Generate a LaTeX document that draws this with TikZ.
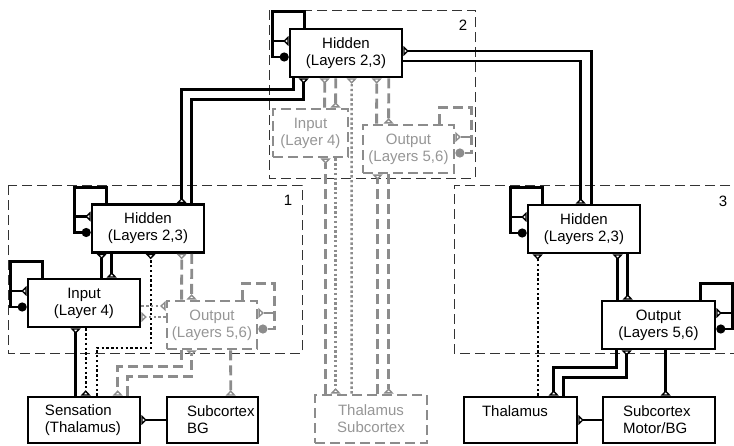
\documentclass[tikz,border=0pt]{standalone}
\usepackage{fontspec}
\setmainfont{Liberation Sans}
\usetikzlibrary{arrows.meta}
\definecolor{lgray}{RGB}{140,140,140}
\definecolor{tgray}{RGB}{150,150,150}
\hfuzz=100pt

\tikzset{
	layer/.style={draw, line width=2.6pt, fill=white, align=center, minimum height=48pt, inner sep=2pt},
	glayer/.style={layer, draw=lgray, text=tgray, dash pattern=on 10pt off 5pt, line width=2.8pt},
	endbox/.style={layer, minimum height=46pt, align=left, inner xsep=#1},
	region/.style={draw=black!80, line width=1pt, dash pattern=on 10pt off 5pt},
	conn/.style={line width=2.6pt},
	gconn/.style={draw=lgray, line width=2.8pt, dash pattern=on 10pt off 5pt},
	dotc/.style={line width=2.4pt, dash pattern=on 2.4pt off 2.4pt},
	gdot/.style={draw=lgray, line width=2.4pt, dash pattern=on 2.4pt off 2.4pt},
	exc/.style={-{Triangle[open,reversed,length=5.5pt,width=10pt,line width=1.4pt]}},
	inh/.style={-{Circle[length=9pt]}}
}

\begin{document}
\begin{tikzpicture}[x=1pt, y=-1pt, every node/.style={font=\fontsize{15}{17}\selectfont}]
		\useasboundingbox (0,0) rectangle (734,445);
		% areas
		\draw[region] (8,185) rectangle (302,353);
		\draw[region] (269,10) rectangle (475,178);
		\draw[region] (745,185) -- (454,185) -- (454,353) -- (745,353);
		\node (lab1) at (288,200) {1};
		\node (lab2) at (463,25) {2};
		\node (lab3) at (723,201) {3};
		% layers
		\node[layer, minimum width=112pt] (hid2) at (346,53) {Hidden\\(Layers 2,3)};
		\node[glayer, minimum width=75pt] (inp2) at (310.5,133) {Input\\(Layer 4)};
		\node[glayer, minimum width=91pt] (out2) at (408.5,149) {Output\\(Layers 5,6)};
		\node[layer, minimum width=112pt] (hid1) at (148,228.5) {Hidden\\(Layers 2,3)};
		\node[layer, minimum width=112pt] (inp1) at (84,303) {Input\\(Layer 4)};
		\node[glayer, minimum width=90pt] (out1) at (212,325) {Output\\(Layers 5,6)};
		\node[layer, minimum width=112pt] (hid3) at (584,229) {Hidden\\(Layers 2,3)};
		\node[layer, minimum width=113pt] (out3) at (658.5,325) {Output\\(Layers 5,6)};
		% subcortical boxes
		\node[endbox=17pt, text width=78pt] (sens) at (84,420) {Sensation\\(Thalamus)};
		\node[endbox=20pt, text width=51pt] (sbg) at (212.5,420) {Subcortex\\BG};
		\node[glayer, minimum width=112pt] (thsub) at (371,419) {Thalamus\\Subcortex};
		\node[endbox=18pt, text width=77pt] (thal) at (520.5,420) {Thalamus\\\mbox{}};
		\node[endbox=20pt, text width=72pt] (smot) at (659,420) {Subcortex\\Motor/BG};
		% self loops
		\foreach \n in {inp1,hid1,hid2,hid3}{
			\draw[conn,inh] ([xshift=16pt]\n.north west) -- ++(0,-16) -| ([xshift=-16pt,yshift=-4pt]\n.west) -- ([yshift=-4pt]\n.west);
			\draw[conn,exc] ([xshift=-16pt,yshift=12pt]\n.west) -- ([yshift=12pt]\n.west);
		}
		\foreach \n/\s in {out1/gconn,out2/gconn,out3/conn}{
			\draw[\s,inh] ([xshift=-16pt]\n.north east) -- ++(0,-16) -| ([xshift=16pt,yshift=-4pt]\n.east) -- ([yshift=-4pt]\n.east);
			\draw[\s,exc] ([xshift=16pt,yshift=12pt]\n.east) -- ([yshift=12pt]\n.east);
		}
		% hidden to hidden
		\draw[conn,exc] ([xshift=5pt]hid2.south west) -- ++(0,11) -| ([xshift=91pt]hid1.north west);
		\draw[conn,exc] ([xshift=101pt]hid1.north west) |- ([xshift=15pt,yshift=-21pt]hid2.south west) -- ([xshift=15pt]hid2.south west);
		\draw[conn,exc] ([yshift=-8pt]hid2.east) -| ([xshift=54pt]hid3.north west);
		\draw[conn,exc] ([xshift=65pt]hid3.north west) |- ([yshift=2pt]hid2.east);
		% area 1
		\draw[conn,exc] ([xshift=75pt]inp1.north west) -- ([xshift=11pt]hid1.south west);
		\draw[conn,exc] ([xshift=21pt]hid1.south west) -- ([xshift=85pt]inp1.north west);
		\draw[conn,exc] ([xshift=49pt]sens.north west) -- ([xshift=49pt]inp1.south west);
		\draw[conn,exc] (sbg.west) -- (sens.east);
		\draw[dotc,exc] ([xshift=59pt]inp1.south west) -- ([xshift=59pt]sens.north west);
		\draw[dotc,exc] ([xshift=70pt]sens.north west) -- ++(0,-48) -| ([xshift=60pt]hid1.south west);
		\draw[gdot,exc] ([yshift=-3pt]inp1.east) -- ([yshift=19pt]out1.west);
		\draw[gdot,exc] ([yshift=8pt]out1.west) -- ([yshift=-14pt]inp1.east);
		\draw[gconn,exc] ([xshift=16pt]out1.north west) -- ([xshift=91pt]hid1.south west);
		\draw[gconn,exc] ([xshift=101pt]hid1.south west) -- ([xshift=26pt]out1.north west);
		\draw[gconn,exc] ([xshift=16pt]out1.south west) -- ++(0,16) -| ([xshift=91pt]sens.north west);
		\draw[gconn,exc] ([xshift=101pt]sens.north west) |- ([xshift=26pt,yshift=-26pt]out1.south west) -- ([xshift=26pt]out1.south west);
		\draw[gconn,exc] ([xshift=65pt]out1.south west) -- ([xshift=65pt]sbg.north west);
		% area 2
		\draw[gconn,exc] ([xshift=53pt]inp2.north west) -- ([xshift=36pt]hid2.south west);
		\draw[gconn,exc] ([xshift=47pt]hid2.south west) -- ([xshift=64pt]inp2.north west);
		\draw[gconn,exc] ([xshift=15pt]out2.north west) -- ([xshift=88pt]hid2.south west);
		\draw[gconn,exc] ([xshift=100pt]hid2.south west) -- ([xshift=27pt]out2.north west);
		\draw[gconn,exc] ([xshift=12pt]thsub.north west) -- ([xshift=54pt]inp2.south west);
		\draw[gconn,exc] ([xshift=64pt]thsub.north west) -- ([xshift=16pt]out2.south west);
		\draw[gconn,exc] ([xshift=27pt]out2.south west) -- ([xshift=75pt]thsub.north west);
		\draw[gdot,exc] ([xshift=64pt]inp2.south west) -- ([xshift=22pt]thsub.north west);
		\draw[gdot,exc] ([xshift=38pt]thsub.north west) -- ([xshift=63pt]hid2.south west);
		% area 3
		\draw[conn,exc] ([xshift=17pt]out3.north west) -- ([xshift=91pt]hid3.south west);
		\draw[conn,exc] ([xshift=101pt]hid3.south west) -- ([xshift=27pt]out3.north west);
		\draw[conn,exc] ([xshift=16pt]out3.south west) -- ++(0,17) -| ([xshift=91pt]thal.north west);
		\draw[conn,exc] ([xshift=101pt]thal.north west) |- ([xshift=26pt,yshift=-27pt]out3.south west) -- ([xshift=26pt]out3.south west);
		\draw[conn,exc] ([xshift=65pt]out3.south west) -- ([xshift=64pt]smot.north west);
		\draw[conn,exc] (smot.west) -- (thal.east);
		\draw[dotc,exc] ([xshift=75pt]thal.north west) -- ([xshift=11pt]hid3.south west);
	\end{tikzpicture}
\end{document}
